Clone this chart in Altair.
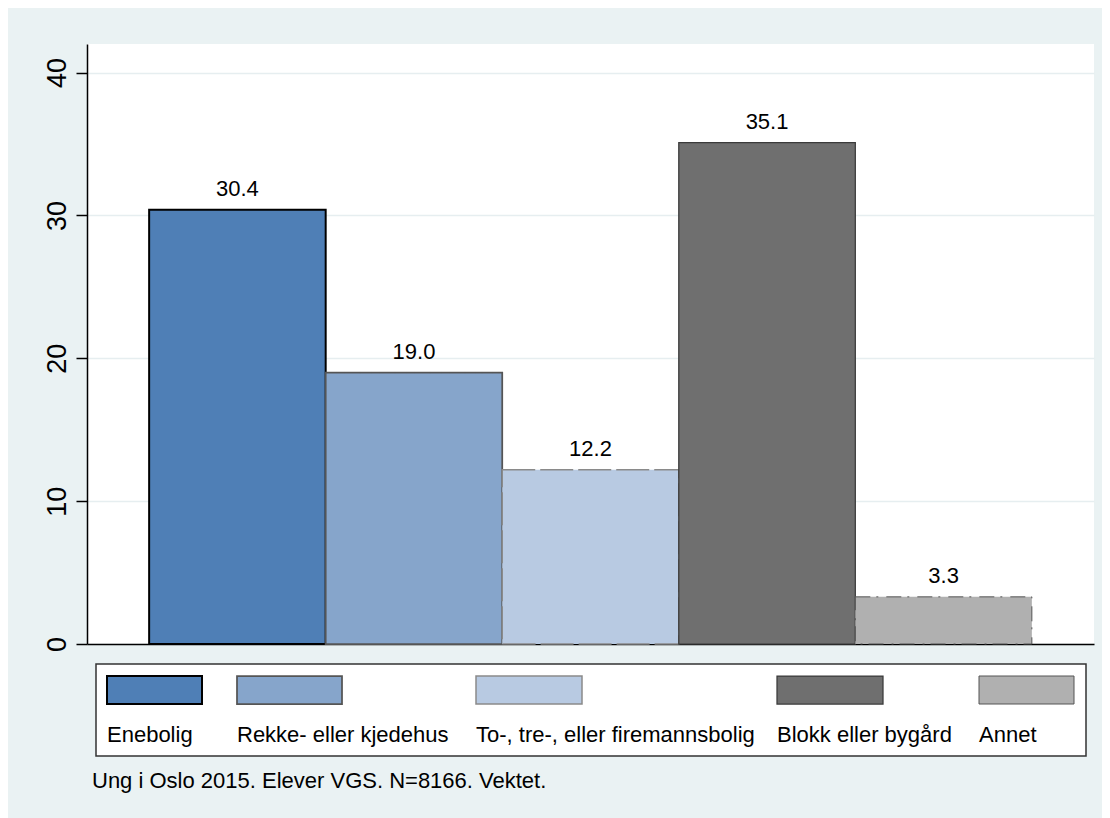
import altair as alt
import pandas as pd

# ---- data ----
categories = ["Enebolig", "Rekke- eller kjedehus", "To-, tre-, eller firemannsbolig",
              "Blokk eller bygård", "Annet"]
values = [30.4, 19.0, 12.2, 35.1, 3.3]
value_labels = ["30.4", "19.0", "12.2", "35.1", "3.3"]
caption = "Ung i Oslo 2015. Elever VGS. N=8166. Vektet."

# ---- styles ----
fills = ["#4f7fb6", "#86a5cb", "#b8cae2", "#6f6f6f", "#b0b0b0"]
strokes = ["#000000", "#555555", "#8a8a8a", "#3a3a3a", "#555555"]
stroke_widths = [2, 1, 1, 1, 2]
dashes = [[1, 0], [1, 0], [33, 5], [1, 0], [15, 6, 2, 8]]

# ---- legend layout (pixels relative to plot origin) ----
leg_x = [20, 150, 389, 690, 892]
leg_w = [95, 105, 106, 106, 95]

FONT = "Liberation Sans"
W, H = 1007, 600

df = pd.DataFrame({"cat": categories, "value": values, "label": value_labels})

fill_s = alt.Scale(domain=categories, range=fills)
stroke_s = alt.Scale(domain=categories, range=strokes)
sw_s = alt.Scale(domain=categories, range=stroke_widths)
dash_s = alt.Scale(domain=categories, range=dashes)

xs = alt.X("cat:N", sort=categories,
           scale=alt.Scale(paddingInner=0, paddingOuter=0.352),
           axis=alt.Axis(labels=False, ticks=False, title=None, grid=False,
                         domainColor="black", domainWidth=1.5))
ys = alt.Y("value:Q", scale=alt.Scale(domain=[0, 42], nice=False),
           axis=alt.Axis(values=[0, 10, 20, 30, 40], title=None, labelAngle=270,
                         labelAlign="center", labelBaseline="alphabetic",
                         labelFontSize=27, labelFont=FONT, labelColor="black",
                         labelPadding=11, tickSize=11, tickColor="black", tickWidth=1.5,
                         domainColor="black", domainWidth=1.5,
                         grid=True, gridColor="#e6eef0", gridWidth=1.5))

bars = alt.Chart(df).mark_bar().encode(
    x=xs, y=ys,
    fill=alt.Fill("cat:N", scale=fill_s, legend=None),
    stroke=alt.Stroke("cat:N", scale=stroke_s, legend=None),
    strokeWidth=alt.StrokeWidth("cat:N", scale=sw_s, legend=None),
    strokeDash=alt.StrokeDash("cat:N", scale=dash_s, legend=None),
)
texts = alt.Chart(df).mark_text(dy=-14, baseline="alphabetic", align="center",
                                fontSize=22, font=FONT, color="black").encode(
    x=alt.X("cat:N", sort=categories), y="value:Q", text="label:N")
main = alt.layer(bars, texts)

# ---- legend (pixel scales) ----
px = alt.Scale(domain=[0, W], range=[0, W], nice=False, zero=False)
py = alt.Scale(domain=[0, 760], range=[0, 760], nice=False, zero=False)

leg = pd.DataFrame({"cat": categories, "x0": leg_x,
                    "x1": [a + b for a, b in zip(leg_x, leg_w)]})
leg["y0"] = 632
leg["y1"] = 660
leg["ty"] = 698

box_df = pd.DataFrame({"x0": [9], "x1": [999], "y0": [620], "y1": [712]})
box = alt.Chart(box_df).mark_rect(fill="white", stroke="#333333", strokeWidth=1.5).encode(
    x=alt.X("x0:Q", scale=px, axis=None), x2="x1:Q",
    y=alt.Y("y0:Q", scale=py, axis=None), y2="y1:Q")
syms = alt.Chart(leg).mark_rect().encode(
    x=alt.X("x0:Q", scale=px, axis=None), x2="x1:Q",
    y=alt.Y("y0:Q", scale=py, axis=None), y2="y1:Q",
    fill=alt.Fill("cat:N", scale=fill_s, legend=None),
    stroke=alt.Stroke("cat:N", scale=stroke_s, legend=None),
    strokeWidth=alt.StrokeWidth("cat:N", scale=sw_s, legend=None),
    strokeDash=alt.StrokeDash("cat:N", scale=dash_s, legend=None),
)
labs = alt.Chart(leg).mark_text(align="left", baseline="alphabetic", fontSize=22,
                                font=FONT, color="black").encode(
    x=alt.X("x0:Q", scale=px, axis=None),
    y=alt.Y("ty:Q", scale=py, axis=None), text="cat:N")
cap_df = pd.DataFrame({"x": [5], "y": [744], "t": [caption]})
cap = alt.Chart(cap_df).mark_text(align="left", baseline="alphabetic", fontSize=22,
                                  font=FONT, color="black").encode(
    x=alt.X("x:Q", scale=px, axis=None),
    y=alt.Y("y:Q", scale=py, axis=None), text="t:N")
legend = alt.layer(box, syms, labs, cap)

chart = alt.layer(main, legend).resolve_scale(x="independent", y="independent").properties(
    width=W, height=H,
    background="#eaf2f3",
    padding={"left": 79, "top": 36, "right": 8, "bottom": 174},
    autosize=alt.AutoSizeParams(type="none"),
).configure_view(fill="white", strokeWidth=0)

chart.save("out.html", embed_options={"renderer": "svg", "actions": False})
